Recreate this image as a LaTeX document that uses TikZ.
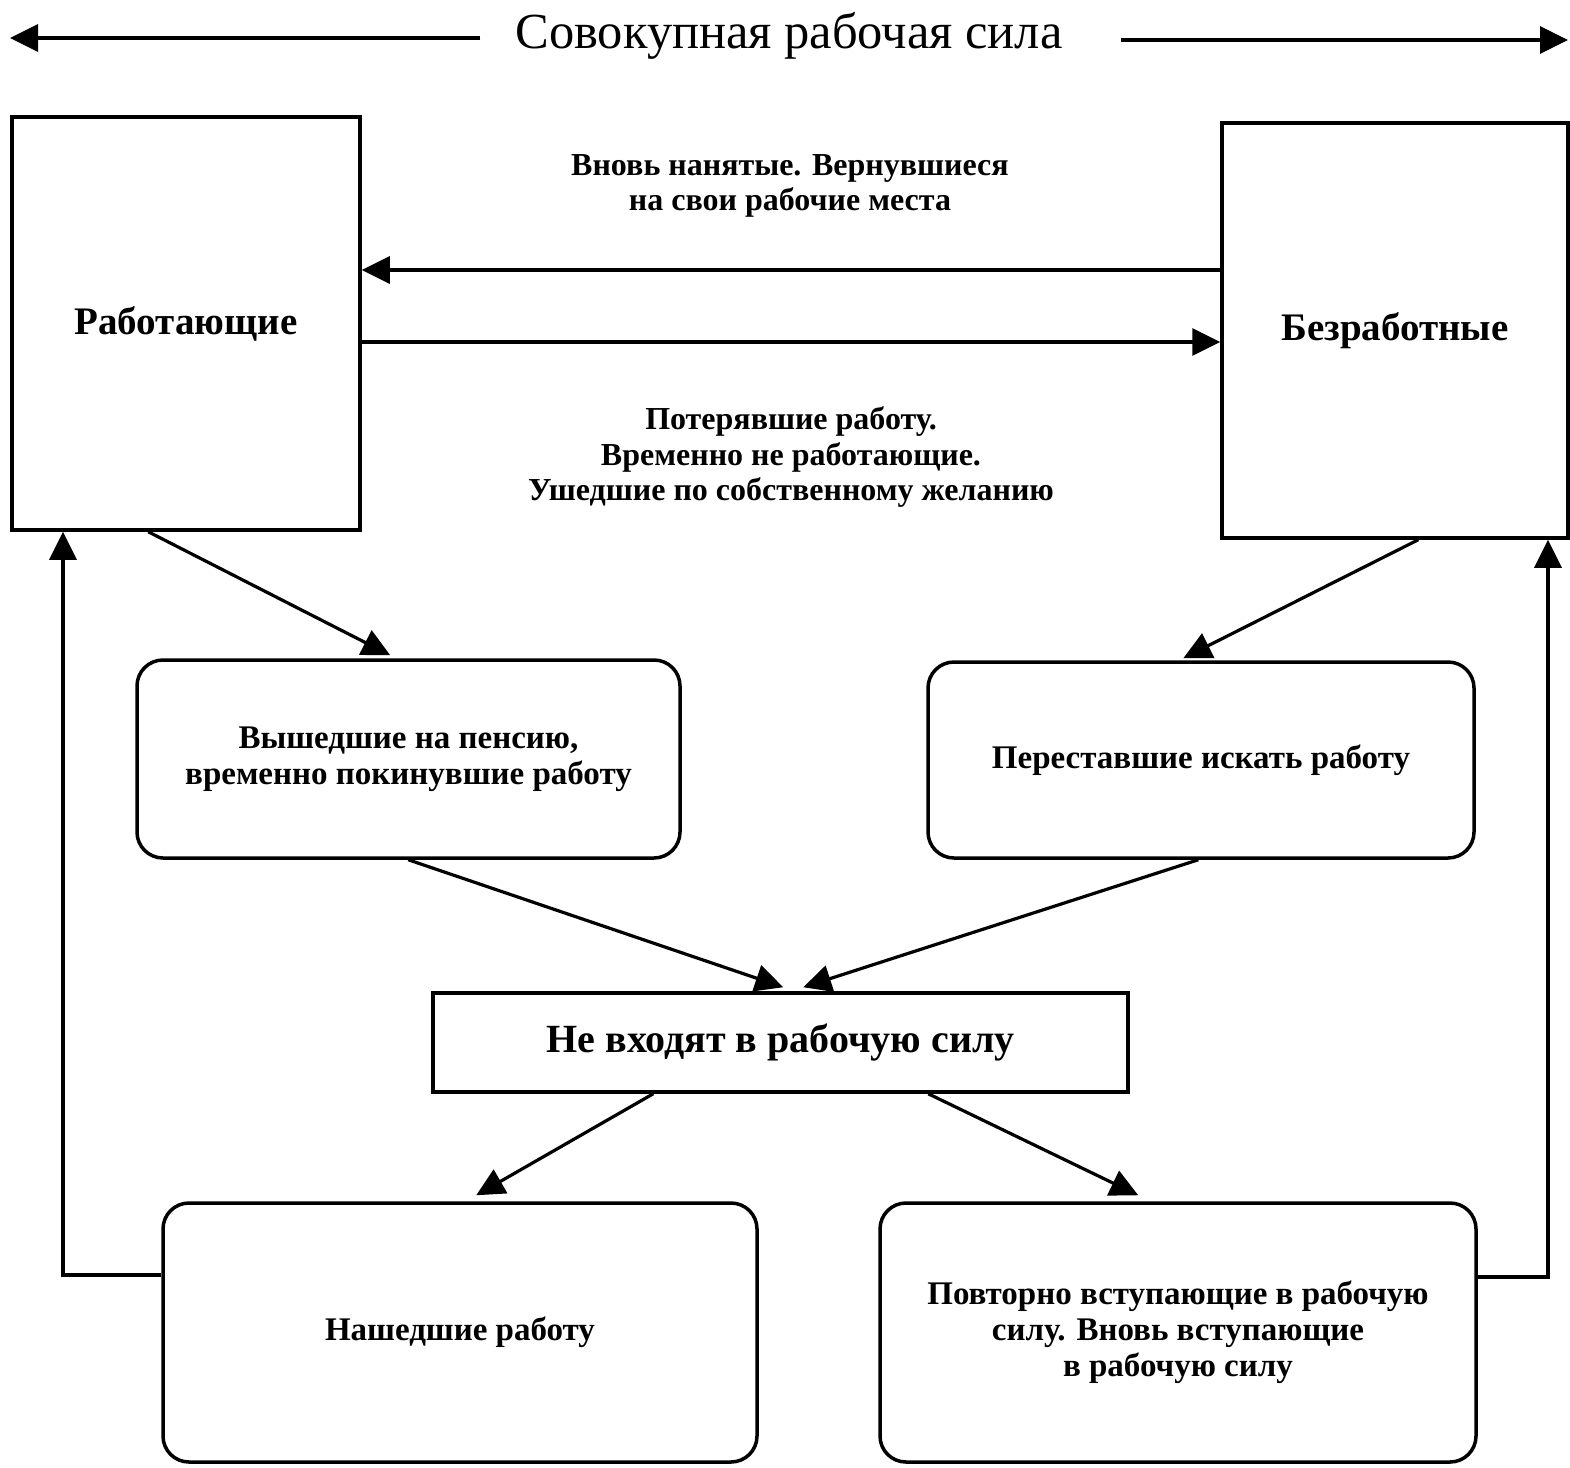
\documentclass[tikz,border=0pt]{standalone}
\usepackage{fontspec}
\setmainfont{Liberation Serif}
\usetikzlibrary{arrows.meta,calc}
\tikzset{
  box/.style={draw, line width=3.5pt, inner sep=0pt, align=center, font=\fontsize{33}{36}\selectfont\bfseries},
  rbox/.style={box, rounded corners=26pt},
  lbl/.style={align=center, inner sep=0pt, font=\fontsize{32}{35.5}\selectfont\bfseries},
  conn/.style={line width=3.2pt, -{Triangle[length=28pt,width=27pt]}},
  bigtxt/.style={font=\fontsize{39}{42}\selectfont\bfseries}
}
\begin{document}
\begin{tikzpicture}[x=1pt,y=-1pt]
\useasboundingbox (0,0) rectangle (1570,1467);
% title
\node[inner sep=0pt, font=\fontsize{50.5}{54}\selectfont] (title) at (789,36) {Совокупная рабочая сила};
\coordinate (tl) at (10,38);
\coordinate (tr) at (1568,40);
\draw[conn] ($(title.west)+(-35,2)$) -- (tl);
\draw[conn] ($(title.east)+(58,4)$) -- (tr);
% main boxes
\node[box, bigtxt, minimum width=348pt, minimum height=413pt] (rab) at (186,323.5) {Работающие};
\node[box, bigtxt, minimum width=346pt, minimum height=415pt] (bez) at (1395,330.5) {Безработные};
\coordinate (ytop) at (0,270);
\coordinate (ybot) at (0,342);
\draw[conn] (bez.west |- ytop) -- (rab.east |- ytop);
\draw[conn] (rab.east |- ybot) -- (bez.west |- ybot);
\node[lbl] (l1) at (790,186) {Вновь нанятые. Вернувшиеся\\на свои рабочие места};
\node[lbl] (l2) at (791,457) {Потерявшие работу.\\Временно не работающие.\\Ушедшие по собственному желанию};
% middle rounded boxes
\node[rbox, minimum width=543pt, minimum height=198pt] (pens) at (408.5,759) {Вышедшие на пенсию,\\временно покинувшие работу};
\node[rbox, minimum width=546pt, minimum height=196pt] (per) at (1201,760) {Переставшие искать работу};
\draw[conn] ($(rab.south west)+(138,0)$) -- ($(pens.north west)+(255,-3)$);
\draw[conn] ($(bez.south west)+(198,0)$) -- ($(per.north west)+(257,-2)$);
% not in labour force
\node[box, minimum width=695pt, minimum height=99pt, font=\fontsize{40}{44}\selectfont\bfseries] (nv) at (780.5,1042.5) {Не входят в рабочую силу};
\draw[conn] ($(pens.south west)+(273,0)$) -- ($(nv.north west)+(352,-4)$);
\draw[conn] ($(per.south west)+(272,0)$) -- ($(nv.north west)+(372,-4)$);
% bottom boxes
\node[rbox, minimum width=594pt, minimum height=259pt] (nash) at (460,1332.5) {Нашедшие работу};
\node[rbox, minimum width=596pt, minimum height=259pt] (povt) at (1178,1332.5) {Повторно вступающие в рабочую\\силу. Вновь вступающие\\в рабочую силу};
\draw[conn] ($(nv.south west)+(222,0)$) -- ($(nash.north west)+(315,-6)$);
\draw[conn] ($(nv.south west)+(497,0)$) -- ($(povt.north west)+(260,-6)$);
% return loops
\coordinate (xl) at (63,0);
\coordinate (xr) at (1548,0);
\coordinate (yl) at (0,1275);
\coordinate (yr) at (0,1277);
\draw[conn] (nash.west |- yl) -- (xl |- yl) -- (xl |- rab.south);
\draw[conn] (povt.east |- yr) -- (xr |- yr) -- (xr |- bez.south);
\end{tikzpicture}
\end{document}
